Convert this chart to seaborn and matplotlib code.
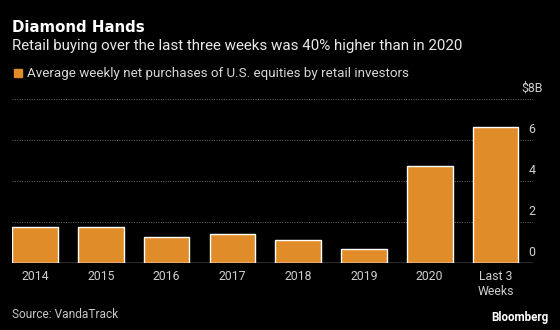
import matplotlib
matplotlib.use("Agg")
import matplotlib.pyplot as plt
import matplotlib.transforms as mtransforms
import seaborn as sns
import pandas as pd

categories = ["2014", "2015", "2016", "2017", "2018", "2019", "2020", "Last 3\nWeeks"]
values = [1.75, 1.75, 1.27, 1.44, 1.13, 0.70, 4.76, 6.65]
y_ticks = [0, 2, 4, 6, 8]
y_tick_labels = ["0", "2", "4", "6", "\\$8B"]

title = "Diamond Hands"
subtitle = "Retail buying over the last three weeks was 40% higher than in 2020"
legend_label = "Average weekly net purchases of U.S. equities by retail investors"
source = "Source: VandaTrack"

BAR = "#E08C29"
BG = "#000000"

sns.set_theme(style="dark")
plt.rcParams["font.family"] = ["Roboto", "DejaVu Sans"]

df = pd.DataFrame({"cat": categories, "val": values})

W, H = 560, 330
fig = plt.figure(figsize=(W / 100, H / 100), dpi=100, facecolor=BG)
ax = fig.add_axes([12 / W, 1 - 263.3 / H, 521 / W, 164.3 / H])
ax.set_facecolor(BG)

sns.barplot(data=df, x="cat", y="val", color=BAR, width=0.695, saturation=1,
            ax=ax, zorder=2)

ax.set_xlim(-0.35, 7.57)
ax.set_ylim(0, 8)
for s in ax.spines.values():
    s.set_visible(False)
ax.set_xlabel("")
ax.set_ylabel("")

ax.set_yticks(y_ticks)
ax.set_yticklabels(y_tick_labels)
ax.yaxis.tick_right()
ax.tick_params(axis="y", length=0, pad=0, labelsize=8.9, labelcolor="#d0d0d0")
ax.tick_params(axis="x", length=0, pad=5, labelsize=8.8, labelcolor="#d0d0d0")
offset = mtransforms.ScaledTranslation(-1 / 100, 11 / 100, fig.dpi_scale_trans)
for lab in ax.get_yticklabels():
    lab.set_horizontalalignment("center")
    lab.set_verticalalignment("center")
    lab.set_transform(lab.get_transform() + offset)

ax.grid(False)
for yv in y_ticks[1:]:
    ax.axhline(yv, color="#6a6a6a", lw=0.7, ls=(0, (1, 1.5)), zorder=1)
ax.axhline(0, color="#d8d8d8", lw=1.0, zorder=3)

# headings
fig.text(12 / W, 1 - 27 / H, title, color="white", fontsize=10.8,
         fontweight="bold", family="DejaVu Sans", va="center", ha="left")
fig.text(12 / W, 1 - 46 / H, subtitle, color="#e8e8e8", fontsize=10.9,
         va="center", ha="left")
fig.patches.append(plt.Rectangle((14 / W, 1 - 77 / H), 8 / W, 8 / H,
                                 transform=fig.transFigure, color=BAR))
fig.text(27 / W, 1 - 73 / H, legend_label, color="#d8d8d8", fontsize=9.6,
         va="center", ha="left")

fig.text(12 / W, 1 - 314 / H, source, color="#c8c8c8", fontsize=8.6,
         va="center", ha="left")
fig.text(548 / W, 1 - 318 / H, "Bloomberg", color="white", fontsize=8.4,
         fontweight="bold", va="center", ha="right")

fig.savefig("out.png", dpi=100, facecolor=BG)
